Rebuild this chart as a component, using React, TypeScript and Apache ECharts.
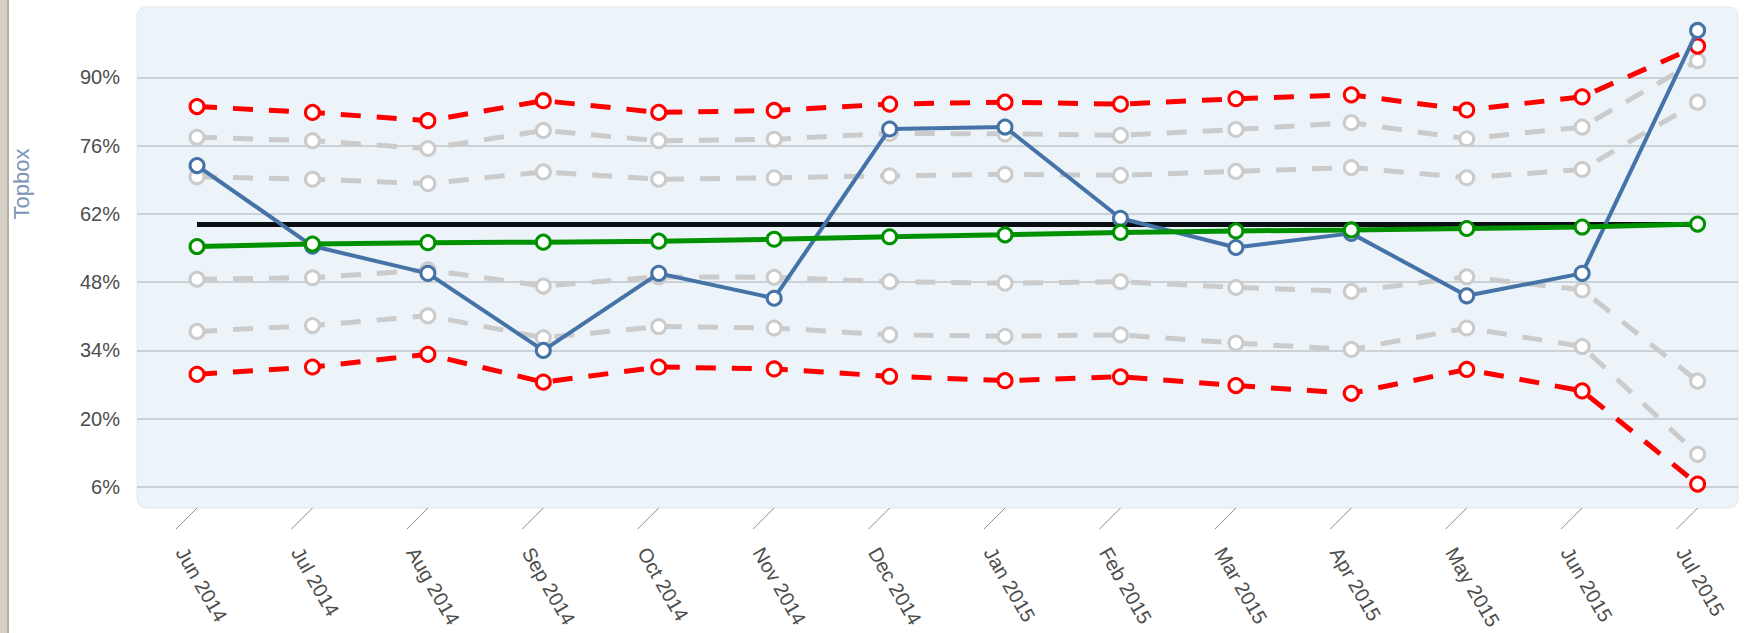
import React, { useEffect, useRef } from 'react';
import * as echarts from 'echarts';

const months = ['Jun 2014', 'Jul 2014', 'Aug 2014', 'Sep 2014', 'Oct 2014', 'Nov 2014', 'Dec 2014', 'Jan 2015', 'Feb 2015', 'Mar 2015', 'Apr 2015', 'May 2015', 'Jun 2015', 'Jul 2015'];
const actual = [71.9, 55.4, 49.8, 34.0, 49.8, 44.7, 79.4, 79.8, 61.1, 55.1, 58.0, 45.2, 49.8, 99.6];
const upperRed = [84.0, 82.8, 81.1, 85.2, 82.8, 83.2, 84.5, 84.9, 84.5, 85.6, 86.4, 83.3, 86.0, 96.4];
const upperGrayOuter = [77.7, 77.0, 75.4, 79.1, 77.0, 77.3, 78.5, 78.4, 78.1, 79.3, 80.7, 77.4, 79.8, 93.4];
const upperGrayInner = [69.6, 69.1, 68.2, 70.6, 69.1, 69.4, 69.8, 70.1, 69.9, 70.7, 71.5, 69.4, 71.1, 84.9];
const trend = [55.3, 55.8, 56.1, 56.2, 56.4, 56.8, 57.3, 57.7, 58.2, 58.5, 58.7, 59.0, 59.3, 59.9];
const target = [59.8, 59.8, 59.8, 59.8, 59.8, 59.8, 59.8, 59.8, 59.8, 59.8, 59.8, 59.8, 59.8, 59.8];
const lowerGrayInner = [48.6, 48.9, 50.5, 47.2, 49.1, 49.0, 48.1, 47.8, 48.1, 46.9, 46.1, 49.1, 46.4, 27.7];
const lowerGrayOuter = [37.9, 39.1, 41.1, 36.6, 38.9, 38.6, 37.2, 36.9, 37.2, 35.5, 34.2, 38.6, 34.8, 12.7];
const lowerRed = [29.1, 30.6, 33.2, 27.5, 30.6, 30.2, 28.7, 27.8, 28.6, 26.8, 25.2, 30.1, 25.7, 6.6];
const yMin = 6;
const yMax = 104;
const yStep = 14;
const yTitle = 'Topbox';

const FONT = '"Liberation Sans", Arial, Helvetica, sans-serif';

export default function App() {
  const ref = useRef<HTMLDivElement>(null);
  useEffect(() => {
    const chart = echarts.init(ref.current as HTMLDivElement, null, { renderer: 'svg' });
    const pts = (arr: number[]) => arr.map((v, i) => [i, v]);
    const marked = (name: string, data: number[], color: string, dashed: boolean, z: number, width = 5) => ({
      type: 'line',
      name,
      data: pts(data),
      z,
      symbol: 'circle',
      symbolSize: 14,
      showSymbol: true,
      silent: true,
      itemStyle: { color: '#ffffff', borderColor: color, borderWidth: 3 },
      lineStyle: { color, width, type: dashed ? [20, 16] : 'solid' },
      emphasis: { disabled: true },
    });
    chart.setOption({
      animation: false,
      grid: { left: 137, right: 6, top: 9, bottom: 146 },
      xAxis: { type: 'value', min: -0.52, max: 13.35, show: false },
      yAxis: {
        type: 'value',
        min: yMin,
        max: yMax,
        interval: yStep,
        axisLine: { show: false },
        axisTick: { show: false },
        axisLabel: { formatter: '{value}%', showMaxLabel: false, margin: 17, fontSize: 20, color: '#4d4d4d', fontFamily: FONT },
        splitLine: { showMaxLine: false, lineStyle: { color: '#c2c6ca', width: 1.5 } },
      },
      series: [
        marked('Upper gray outer', upperGrayOuter, '#cbcbcb', true, 2),
        marked('Upper gray inner', upperGrayInner, '#cbcbcb', true, 2),
        marked('Lower gray inner', lowerGrayInner, '#cbcbcb', true, 2),
        marked('Lower gray outer', lowerGrayOuter, '#cbcbcb', true, 2),
        marked('Upper limit', upperRed, '#ff0000', true, 3),
        marked('Lower limit', lowerRed, '#ff0000', true, 3),
        {
          type: 'line', name: 'Target', data: pts(target), z: 4, symbol: 'none', silent: true,
          lineStyle: { color: '#0b0f14', width: 5 },
        },
        marked('Topbox', actual, '#4572a7', false, 5, 4),
        marked('Trend', trend, '#009100', false, 6),
      ],
    });

    const elements: any[] = [];
    const [, yBottomTick] = chart.convertToPixel({ gridIndex: 0 }, [0, yMin]) as number[];
    const [, yTopTick] = chart.convertToPixel({ gridIndex: 0 }, [0, yMax]) as number[];
    const plotLeft = 137;
    const plotRight = 1738;
    const plotTop = yTopTick - 2;
    const plotBottom = yBottomTick + 21;
    elements.push({
      type: 'rect', z: -10, silent: true,
      shape: { x: plotLeft, y: plotTop, width: plotRight - plotLeft, height: plotBottom - plotTop, r: 9 },
      style: { fill: '#ecf4fa', stroke: '#e0e8ef', lineWidth: 1 },
    });
    elements.push({ type: 'rect', z: -10, silent: true, shape: { x: 0, y: 0, width: 7, height: 633 }, style: { fill: '#d5d1c6' } });
    elements.push({ type: 'rect', z: -10, silent: true, shape: { x: 7, y: 0, width: 2, height: 633 }, style: { fill: '#b3afa5' } });
    elements.push({
      type: 'text', x: 21, y: 184, rotation: Math.PI / 2, silent: true,
      style: { text: yTitle, fontSize: 22, fill: '#7a93b6', align: 'center', verticalAlign: 'middle', fontFamily: FONT },
    });
    months.forEach((m, i) => {
      const [x] = chart.convertToPixel({ gridIndex: 0 }, [i, yMin]) as number[];
      elements.push({
        type: 'line', silent: true,
        shape: { x1: x, y1: plotBottom, x2: x - 21, y2: plotBottom + 21 },
        style: { stroke: '#8c8c8c', lineWidth: 1 },
      });
      elements.push({
        type: 'text', x: x - 16, y: yBottomTick + 62, rotation: (-60 * Math.PI) / 180, silent: true,
        style: { text: m, fontSize: 20, fill: '#4d4d4d', align: 'left', verticalAlign: 'middle', fontFamily: FONT },
      });
    });
    chart.setOption({ graphic: { elements } });
    return () => chart.dispose();
  }, []);
  return (
    <div
      ref={ref}
      style={{ position: 'fixed', left: 0, top: 0, width: 1744, height: 633, background: '#ffffff' }}
    />
  );
}
